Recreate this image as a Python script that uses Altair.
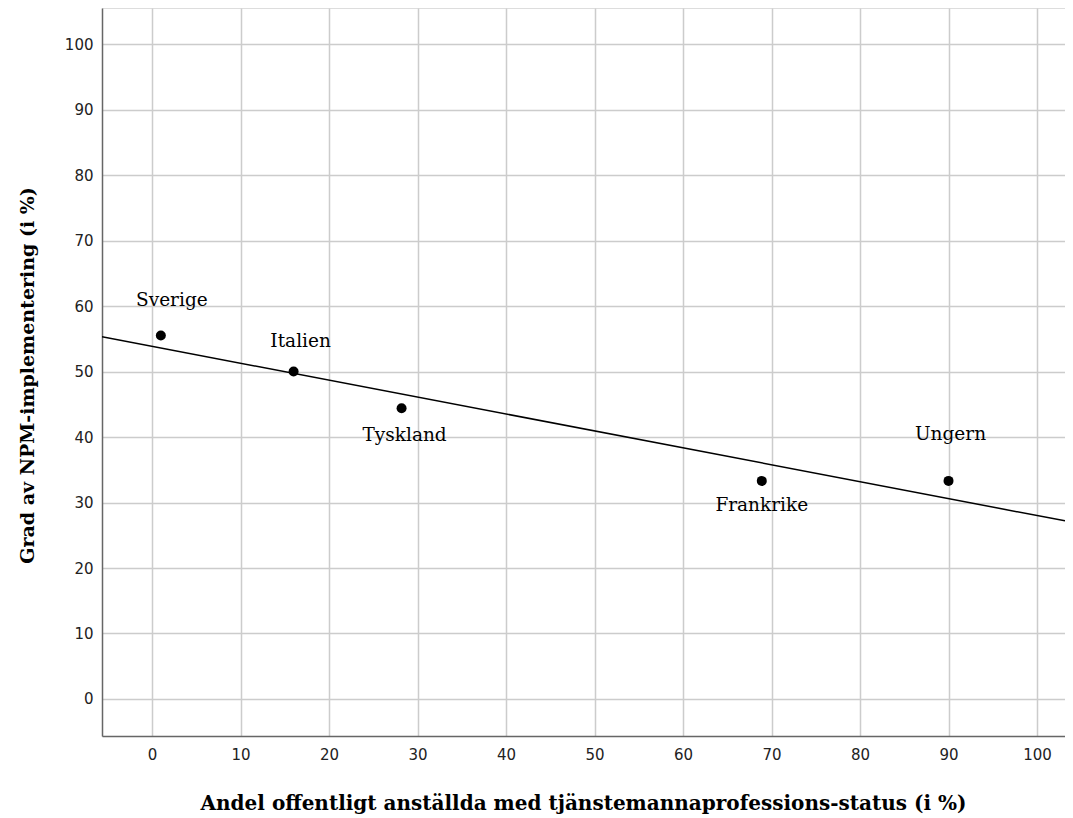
import altair as alt
import pandas as pd

countries = ["Sverige", "Italien", "Tyskland", "Frankrike", "Ungern"]
x_vals = [1.0, 16.0, 28.2, 68.9, 90.0]
y_vals = [55.5, 50.0, 44.4, 33.3, 33.3]
x_ticks = [0, 10, 20, 30, 40, 50, 60, 70, 80, 90, 100]
y_ticks = [0, 10, 20, 30, 40, 50, 60, 70, 80, 90, 100]

# label offsets in pixels (style)
label_dx = [11, 7, 3, 0, 2]
label_dy = [-35, -31, 27, 24, -47]

df = pd.DataFrame({"land": countries, "x": x_vals, "y": y_vals})

XMIN, XMAX = -5.65, 103.16
YMIN, YMAX = -5.65, 105.5

xs = alt.Scale(domain=[XMIN, XMAX], nice=False, zero=False)
ys = alt.Scale(domain=[YMIN, YMAX], nice=False, zero=False)

x_axis = alt.Axis(
    values=x_ticks, ticks=False, labelPadding=11, labelFontSize=15,
    labelFont="DejaVu Sans", labelColor="#222",
    title="Andel offentligt anställda med tjänstemannaprofessions-status (i %)",
    titleFont="DejaVu Serif", titleFontSize=20, titleFontWeight="bold",
    titleColor="#000", titleX=481, titleY=73, titleBaseline="alphabetic",
    grid=True, gridColor="#cccccc", gridWidth=1.5,
    domainColor="#666666", domainWidth=1.5,
)
y_axis = alt.Axis(
    values=y_ticks, ticks=False, labelPadding=9, labelFontSize=15,
    labelFont="DejaVu Sans", labelColor="#222",
    title="Grad av NPM-implementering (i %)",
    titleFont="DejaVu Serif", titleFontSize=19, titleFontWeight="bold",
    titleColor="#000", titleX=-69, titleY=367, titleBaseline="alphabetic",
    grid=True, gridColor="#cccccc", gridWidth=1.5,
    domainColor="#666666", domainWidth=1.5,
)

base = alt.Chart(df)

points = base.mark_point(filled=True, color="black", size=100, opacity=1).encode(
    x=alt.X("x:Q", scale=xs, axis=x_axis),
    y=alt.Y("y:Q", scale=ys, axis=y_axis),
)

reg = base.transform_regression("x", "y", extent=[XMIN, XMAX]).mark_line(
    color="black", strokeWidth=1.5, clip=True
).encode(x=alt.X("x:Q", scale=xs), y=alt.Y("y:Q", scale=ys))

labels = []
for i, c in enumerate(countries):
    labels.append(
        alt.Chart(df).transform_filter(alt.datum.land == c)
        .mark_text(font="DejaVu Serif", fontSize=18.5, color="black",
                   dx=label_dx[i], dy=label_dy[i], align="center", baseline="middle")
        .encode(x=alt.X("x:Q", scale=xs), y=alt.Y("y:Q", scale=ys), text="land:N")
    )

chart = alt.layer(reg, points, *labels).properties(
    width=963, height=728,
    autosize=alt.AutoSizeParams(type="none"),
    padding={"left": 94, "top": 0, "right": 0, "bottom": 80},
).configure_view(stroke=None).configure(background="white")

chart.save("out.html", embed_options={"renderer": "svg", "actions": False})
